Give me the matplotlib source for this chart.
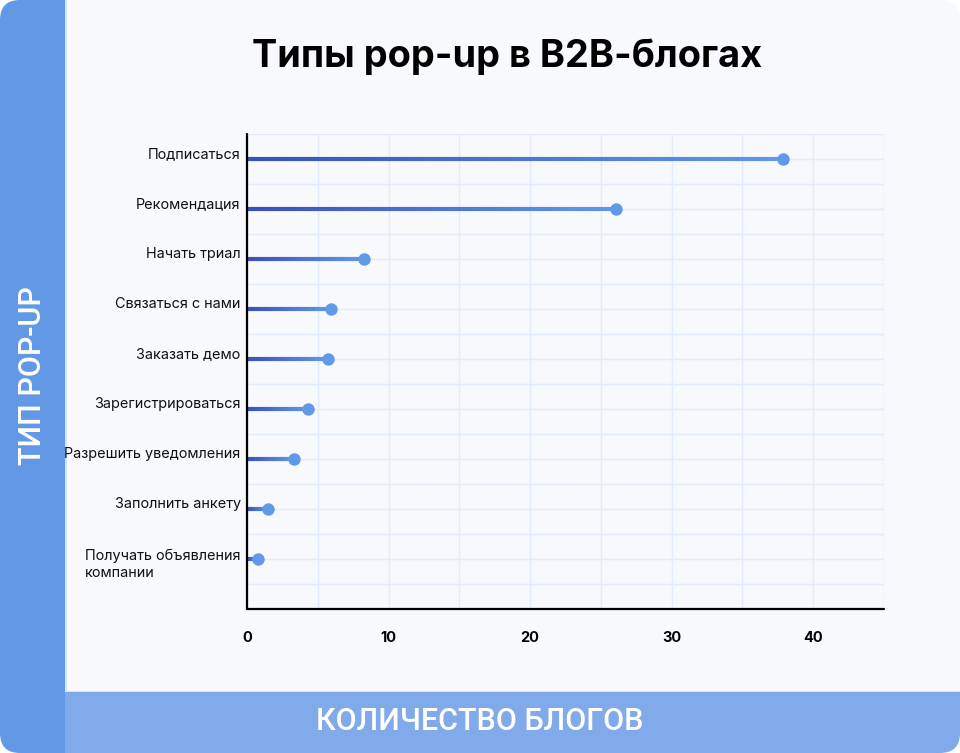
import numpy as np
import matplotlib
matplotlib.use('Agg')
import matplotlib.pyplot as plt
from matplotlib.collections import LineCollection
from matplotlib.colors import LinearSegmentedColormap
from matplotlib.patches import FancyBboxPatch, Rectangle
import matplotlib.ticker as ticker

plt.rcParams['font.family'] = ['Inter', 'DejaVu Sans']

categories = ['Подписаться', 'Рекомендация', 'Начать триал', 'Связаться с нами',
              'Заказать демо', 'Зарегистрироваться', 'Разрешить уведомления',
              'Заполнить анкету', 'Получать объявления\nкомпании']
values = [37.9, 26.1, 8.3, 5.9, 5.7, 4.3, 3.3, 1.5, 0.8]
xticks = [0, 10, 20, 30, 40]

title = 'Типы pop-up в B2B-блогах'
ylab = 'ТИП POP-UP'
xlab = 'КОЛИЧЕСТВО БЛОГОВ'

W, H = 960, 753
fig = plt.figure(figsize=(W / 100, H / 100), dpi=100, facecolor='white')

# background card (pixel coords)
bg = fig.add_axes([0, 0, 1, 1], zorder=-10)
bg.set_xlim(0, W)
bg.set_ylim(H, 0)
bg.axis('off')
card = FancyBboxPatch((0, 0), W, H, boxstyle='round,pad=0,rounding_size=20',
                      fc='none', ec='none', transform=bg.transData)
bg.add_patch(card)
for (x0, y0, w, h, c) in [(0, 0, 65, H, '#6298E6'),
                          (65, 0, W - 65, 692, '#F7F9FD'),
                          (65, 692, W - 65, H - 692, '#80AAEA'),
                          (65, 0, 1.5, 692, '#D6E4F8'),
                          (65, 691, W - 65, 1.2, '#D6E4F8')]:
    r = Rectangle((x0, y0), w, h, fc=c, ec='none')
    bg.add_patch(r)
    r.set_clip_path(card)

bg.text(507, 57, title, ha='center', va='center', fontsize=27.3,
        fontweight='bold', color='black')
bg.text(33, 376, ylab, ha='center', va='center', rotation=90, fontsize=22,
        color='white', fontweight='medium', family=['Roboto', 'DejaVu Sans'])
bg.text(480, 721, xlab, ha='center', va='center', fontsize=22,
        color='white', fontweight='medium', family=['Roboto', 'DejaVu Sans'])

# main chart
ax = fig.add_axes([247 / W, 1 - 609 / H, (884 - 247) / W, (609 - 134) / H])
ax.set_facecolor('none')
ax.set_xlim(0, 45)
ax.set_ylim(9, -0.5)

cmap = LinearSegmentedColormap.from_list('bl', ['#3A50B6', '#5F99E8'])
for i, v in enumerate(values):
    xs = np.linspace(0, v, 60)
    segs = [[(xs[k], i), (xs[k + 1], i)] for k in range(len(xs) - 1)]
    lc = LineCollection(segs, colors=cmap(np.linspace(0, 1, len(segs))),
                        linewidths=3.0, capstyle='butt', zorder=3)
    ax.add_collection(lc)
ax.scatter(values, range(len(values)), s=80, color='#5F99E8', zorder=4,
           linewidths=0)

for i, lab in enumerate(categories):
    nl = lab.count('\n')
    ax.annotate(lab, xy=(0, i), xytext=(-4.5, 0.5 - 13.7 * nl),
                textcoords='offset points', ha='right', va='baseline',
                multialignment='left', linespacing=1.3,
                fontsize=10.4, color='#111111', annotation_clip=False)

ax.xaxis.set_major_locator(ticker.FixedLocator(xticks))
ax.xaxis.set_minor_locator(ticker.MultipleLocator(5))
ax.yaxis.set_major_locator(ticker.MultipleLocator(0.5))
ax.grid(True, which='minor', axis='x', color='#E2ECFA', lw=1)
ax.grid(True, which='major', axis='both', color='#E2ECFA', lw=1)
ax.set_axisbelow(True)
ax.set_yticklabels([])
ax.tick_params(axis='y', length=0)
ax.tick_params(axis='x', which='both', length=0, pad=16, labelsize=10.5)
for t in ax.get_xticklabels():
    t.set_fontweight('bold')
for s in ['top', 'right']:
    ax.spines[s].set_visible(False)
for s in ['left', 'bottom']:
    ax.spines[s].set_linewidth(1.6)
    ax.spines[s].set_color('black')
    ax.spines[s].set_capstyle('round')
    ax.spines[s].set_zorder(5)

fig.savefig('out.png', dpi=100, facecolor='white')
